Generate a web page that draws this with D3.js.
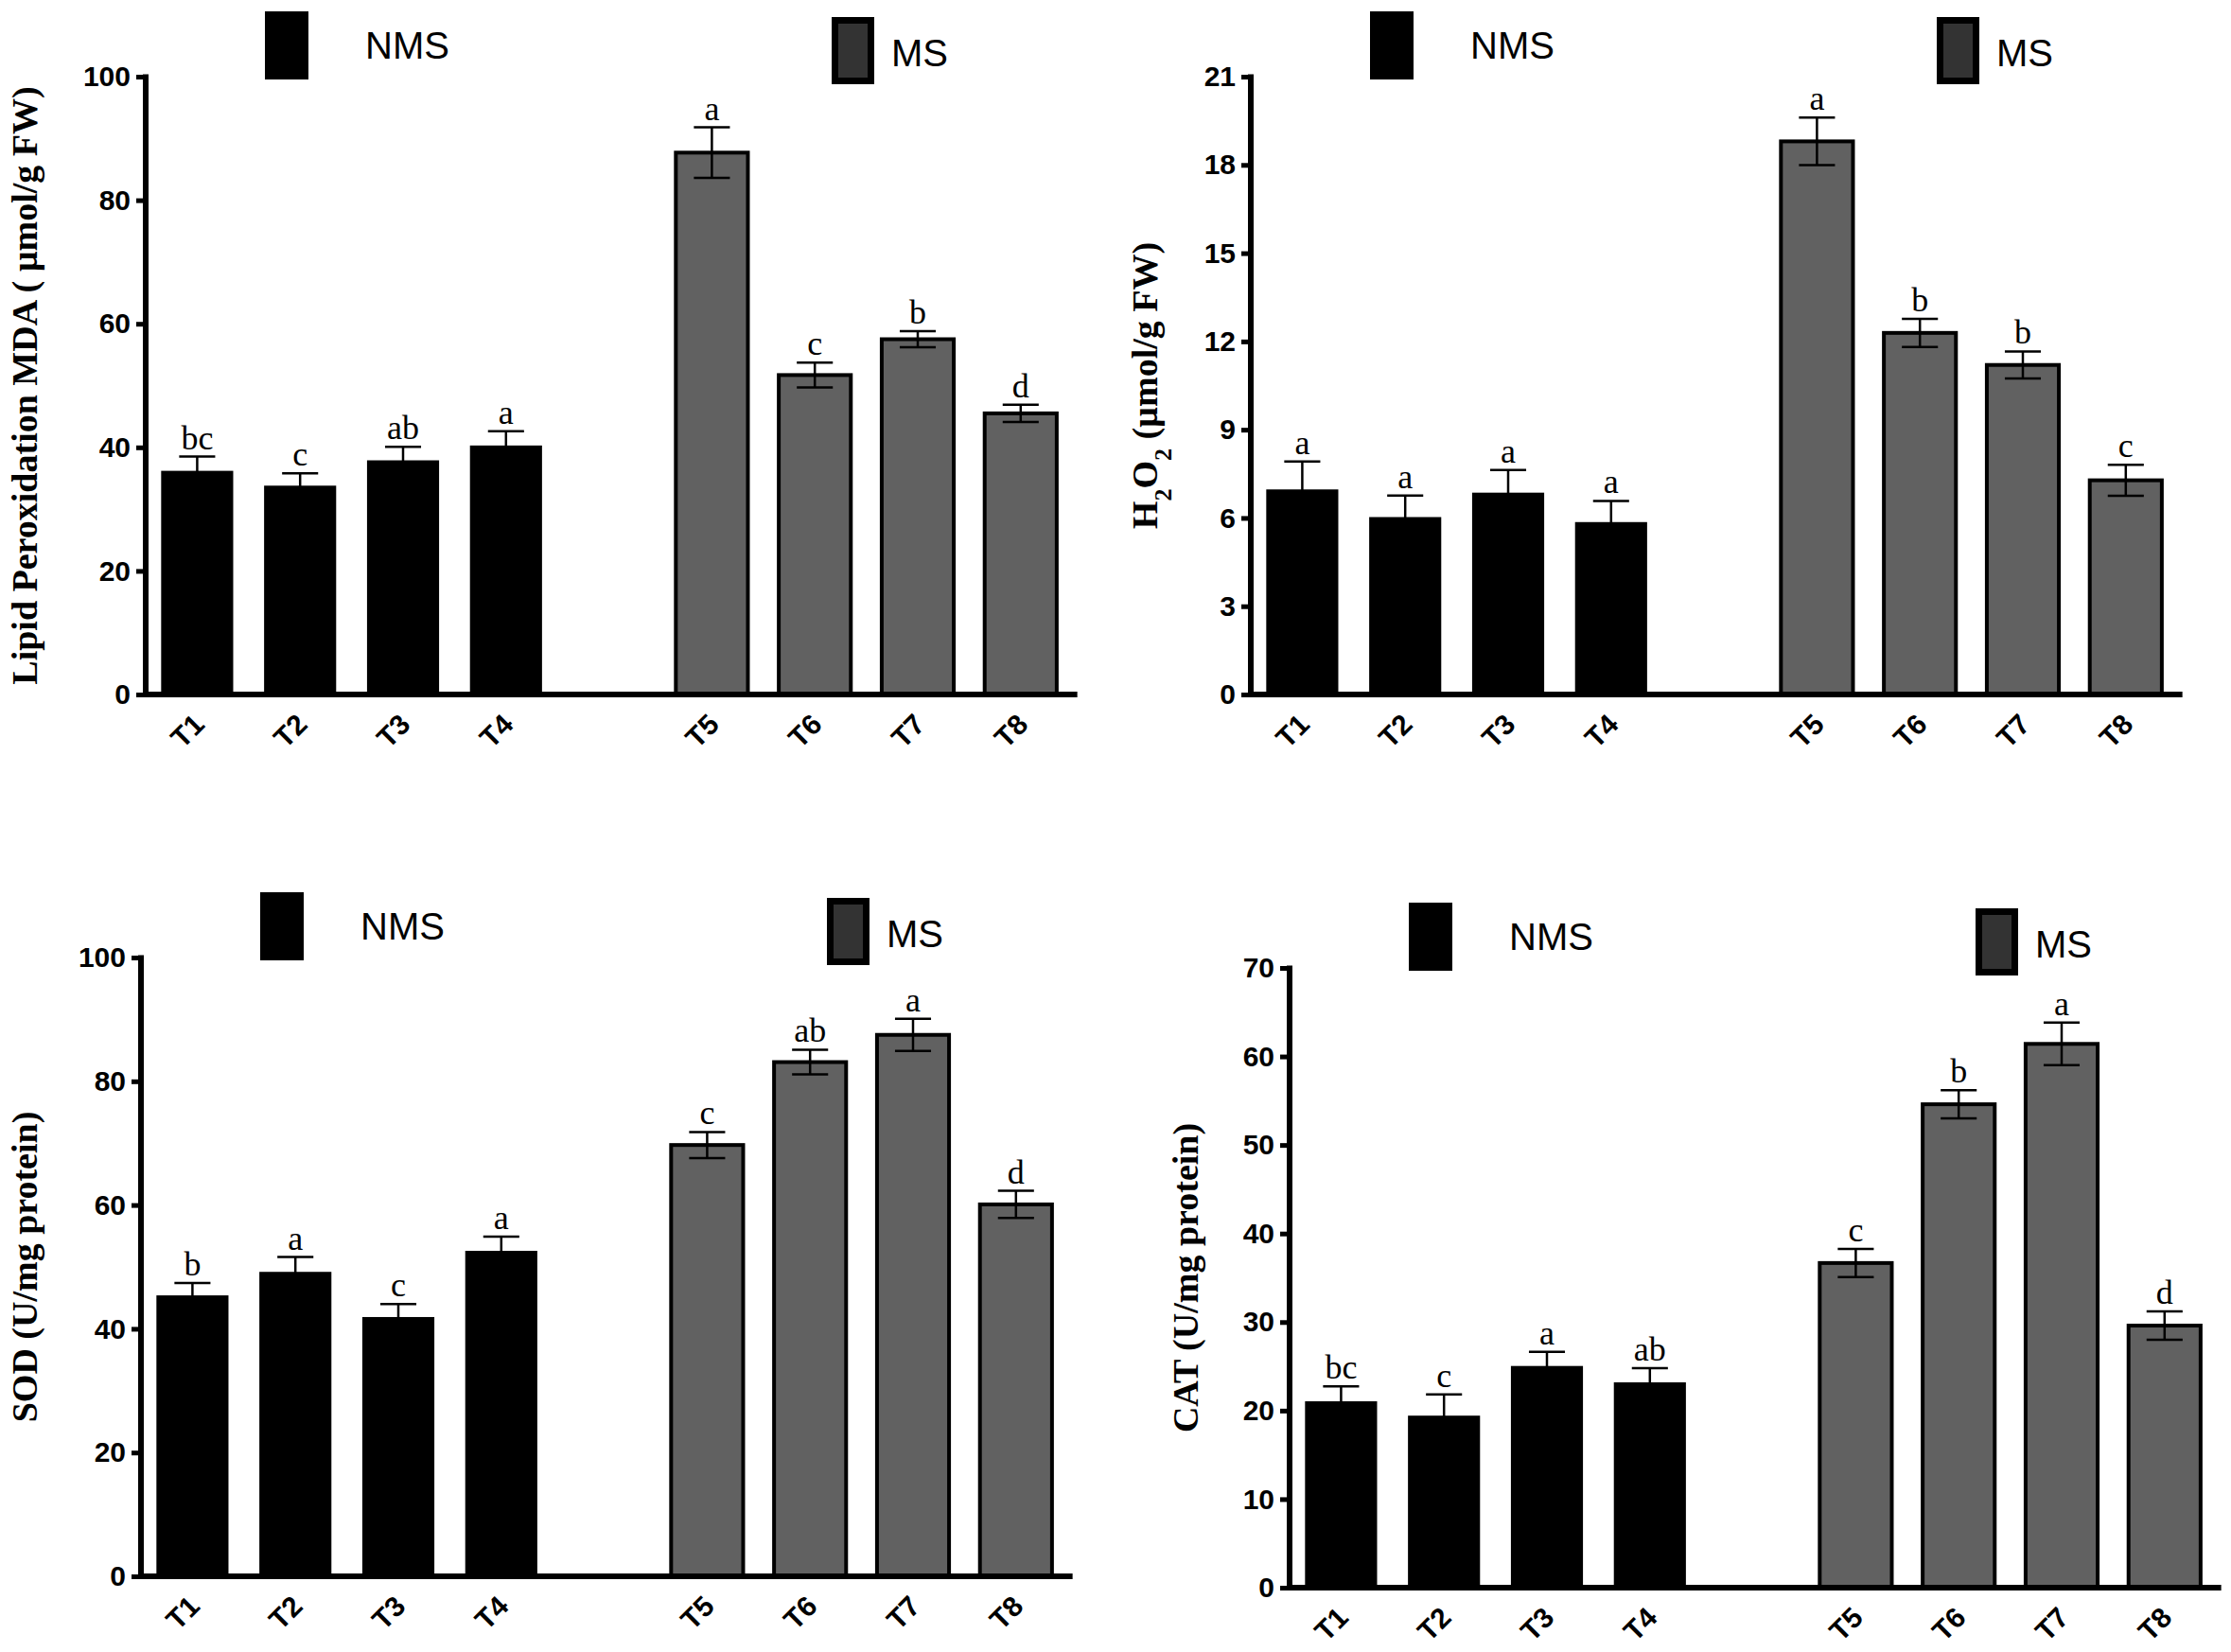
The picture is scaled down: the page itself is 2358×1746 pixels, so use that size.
<!DOCTYPE html>
<html>
<head>
<meta charset="utf-8">
<script src="https://cdn.jsdelivr.net/npm/d3@7/dist/d3.min.js"></script>
<style>
  html, body { margin: 0; padding: 0; background: #fff; }
  svg { display: block; }
</style>
</head>
<body>
<svg id="chart" width="2358" height="1746"></svg>
<script>
// ---------------- DATA ----------------
const treatments = ["T1", "T2", "T3", "T4", "T5", "T6", "T7", "T8"];
const groups = ["NMS", "NMS", "NMS", "NMS", "MS", "MS", "MS", "MS"];
const legendLabels = ["NMS", "MS"];

const mdaMean = [36.2, 33.8, 37.9, 40.3, 87.7, 51.7, 57.5, 45.5];
const mdaErr = [2.3, 2.0, 2.2, 2.3, 4.1, 2.0, 1.3, 1.4];
const mdaLetters = ["bc", "c", "ab", "a", "a", "c", "b", "d"];
const mdaTicks = [0, 20, 40, 60, 80, 100];

const h2o2Mean = [6.97, 6.03, 6.86, 5.86, 18.8, 12.29, 11.2, 7.28];
const h2o2Err = [0.95, 0.73, 0.77, 0.72, 0.81, 0.48, 0.46, 0.53];
const h2o2Letters = ["a", "a", "a", "a", "a", "b", "b", "c"];
const h2o2Ticks = [0, 3, 6, 9, 12, 15, 18, 21];

const sodMean = [45.4, 49.2, 41.9, 52.6, 69.7, 83.1, 87.5, 60.1];
const sodErr = [2.0, 2.4, 2.1, 2.3, 2.1, 2.0, 2.6, 2.2];
const sodLetters = ["b", "a", "c", "a", "c", "ab", "a", "d"];
const sodTicks = [0, 20, 40, 60, 80, 100];

const catMean = [21.05, 19.43, 25.04, 23.19, 36.67, 54.6, 61.42, 29.6];
const catErr = [1.7, 2.4, 1.6, 1.6, 1.6, 1.6, 2.4, 1.6];
const catLetters = ["bc", "c", "a", "ab", "c", "b", "a", "d"];
const catTicks = [0, 10, 20, 30, 40, 50, 60, 70];

// slot order on the x axis (one empty slot between groups)
const slots = ["T1", "T2", "T3", "T4", "gap", "T5", "T6", "T7", "T8"];

// ---------------- LAYOUT ----------------
const panels = [
  { mean: mdaMean, err: mdaErr, letters: mdaLetters, ticks: mdaTicks,
    title: [{t: "Lipid Peroxidation MDA ( µmol/g FW)"}],
    axisX: 154, y0: 734, yTop: 81, pitch: 108.8, titleX: 26 },
  { mean: h2o2Mean, err: h2o2Err, letters: h2o2Letters, ticks: h2o2Ticks,
    title: [{t: "H"}, {t: "2", sub: true}, {t: "O"}, {t: "2", sub: true}, {t: " (µmol/g FW)"}],
    axisX: 1322, y0: 734, yTop: 81, pitch: 108.8, titleX: 1210 },
  { mean: sodMean, err: sodErr, letters: sodLetters, ticks: sodTicks,
    title: [{t: "SOD (U/mg protein)"}],
    axisX: 149, y0: 1666, yTop: 1012, pitch: 108.8, titleX: 26 },
  { mean: catMean, err: catErr, letters: catLetters, ticks: catTicks,
    title: [{t: "CAT (U/mg protein)"}],
    axisX: 1363, y0: 1678, yTop: 1023, pitch: 108.8, titleX: 1253 }
];

const NMS_FILL = "#000000";
const MS_FILL = "#616161";
const LEG_MS_FILL = "#333333";
const SANS = "'Liberation Sans', Arial, sans-serif";
const SERIF = "'Liberation Serif', 'Times New Roman', serif";

const svg = d3.select("#chart");
svg.append("rect").attr("width", 2358).attr("height", 1746).attr("fill", "#fff");

panels.forEach(p => {
  const g = svg.append("g");
  const domainMax = p.ticks[p.ticks.length - 1];
  const y = d3.scaleLinear().domain([0, domainMax]).range([p.y0, p.yTop]);
  const x = d3.scaleBand().domain(slots)
    .range([p.axisX, p.axisX + 9 * p.pitch])
    .paddingInner(0.3).paddingOuter(0.15);
  const bw = x.bandwidth();

  const data = treatments.map((t, i) => ({
    t, group: groups[i], mean: p.mean[i], err: p.err[i], letter: p.letters[i]
  }));

  // bars
  g.selectAll("rect.bar").data(data).enter().append("rect")
    .attr("class", "bar")
    .attr("x", d => x(d.t))
    .attr("width", bw)
    .attr("y", d => y(d.mean))
    .attr("height", d => y(0) - y(d.mean))
    .attr("fill", d => d.group === "NMS" ? NMS_FILL : MS_FILL)
    .attr("stroke", d => d.group === "NMS" ? "none" : "#000")
    .attr("stroke-width", 4);

  // error bars
  const eb = g.selectAll("g.eb").data(data).enter().append("g").attr("class", "eb");
  const cx = d => x(d.t) + bw / 2;
  eb.append("line")
    .attr("x1", cx).attr("x2", cx)
    .attr("y1", d => y(d.mean - d.err)).attr("y2", d => y(d.mean + d.err))
    .attr("stroke", "#000").attr("stroke-width", 2.5);
  [1, -1].forEach(s => {
    eb.append("line")
      .attr("x1", d => cx(d) - bw / 4).attr("x2", d => cx(d) + bw / 4)
      .attr("y1", d => y(d.mean + s * d.err)).attr("y2", d => y(d.mean + s * d.err))
      .attr("stroke", "#000").attr("stroke-width", 2.5);
  });

  // significance letters
  g.selectAll("text.letter").data(data).enter().append("text")
    .attr("class", "letter")
    .attr("x", cx)
    .attr("y", d => y(d.mean + d.err) - 8)
    .attr("text-anchor", "middle")
    .style("font-family", SERIF)
    .style("font-size", "36px")
    .text(d => d.letter);

  // y axis
  const yAxis = d3.axisLeft(y).tickValues(p.ticks).tickSize(10).tickPadding(6)
    .tickFormat(d3.format("d"));
  const ya = g.append("g").attr("transform", `translate(${p.axisX},0)`).call(yAxis);
  ya.select(".domain").remove();
  ya.selectAll(".tick line").attr("stroke", "#000").attr("stroke-width", 5);
  ya.selectAll(".tick text")
    .style("font-family", SANS).style("font-size", "30px").style("font-weight", "bold")
    .attr("fill", "#000");
  g.append("line")
    .attr("x1", p.axisX).attr("x2", p.axisX)
    .attr("y1", y(0)).attr("y2", y(domainMax) - 2.5)
    .attr("stroke", "#000").attr("stroke-width", 6);

  // x axis
  g.append("line")
    .attr("x1", p.axisX - 3).attr("x2", p.axisX + 9.05 * p.pitch)
    .attr("y1", y(0)).attr("y2", y(0))
    .attr("stroke", "#000").attr("stroke-width", 6);
  g.selectAll("text.xl").data(data).enter().append("text")
    .attr("class", "xl")
    .attr("transform", d => `translate(${cx(d) + 2},${y(0) + 26}) rotate(-45)`)
    .attr("text-anchor", "end")
    .attr("dy", "0.35em")
    .style("font-family", SANS).style("font-size", "30px").style("font-weight", "bold")
    .text(d => d.t);

  // y title
  const tt = g.append("text")
    .attr("transform", `translate(${p.titleX},${(p.y0 + p.yTop) / 2}) rotate(-90)`)
    .attr("text-anchor", "middle")
    .attr("dy", "0.35em")
    .style("font-family", SERIF).style("font-size", "38px").style("font-weight", "bold");
  p.title.forEach(part => {
    const ts = tt.append("tspan").text(part.t);
    if (part.sub) ts.attr("baseline-shift", "sub").style("font-size", "26px");
  });

  // legend
  const lg = g.append("g");
  lg.append("rect")
    .attr("x", p.axisX + 126).attr("y", p.yTop - 69)
    .attr("width", 46).attr("height", 72)
    .attr("fill", NMS_FILL);
  lg.append("text")
    .attr("x", p.axisX + 232).attr("y", p.yTop - 19)
    .style("font-family", SANS).style("font-size", "40px")
    .text(legendLabels[0]);
  lg.append("rect")
    .attr("x", p.axisX + 728.5).attr("y", p.yTop - 59.5)
    .attr("width", 38).attr("height", 64)
    .attr("fill", LEG_MS_FILL).attr("stroke", "#000").attr("stroke-width", 7);
  lg.append("text")
    .attr("x", p.axisX + 788).attr("y", p.yTop - 11)
    .style("font-family", SANS).style("font-size", "40px")
    .text(legendLabels[1]);
});
</script>
</body>
</html>
